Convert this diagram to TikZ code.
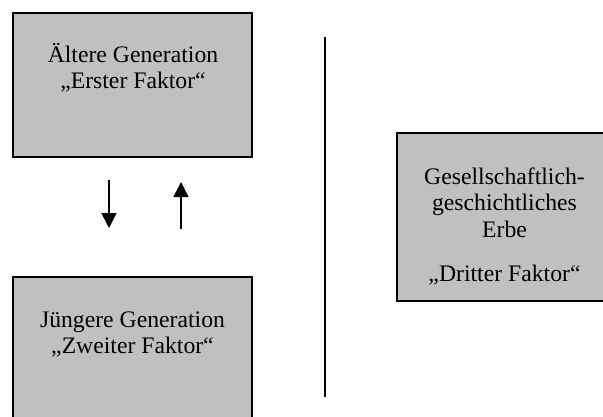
\documentclass[tikz,border=0pt]{standalone}
\usepackage{fontspec}
\setmainfont{Liberation Serif}
\usetikzlibrary{arrows.meta}
\definecolor{boxgray}{HTML}{C0C0C0}
\tikzset{
  factorbox/.style={draw=black, fill=boxgray, line width=1.3pt, rectangle, inner sep=0pt},
  boxtext/.style={align=center, anchor=base, inner sep=0pt, font=\fontsize{23.7}{26.5}\selectfont},
  flowarrow/.style={line width=1.5pt, -{Triangle[width=15pt,length=15pt]}},
  divider/.style={line width=2.6pt}
}
\begin{document}
\begin{tikzpicture}[x=1pt,y=-1pt]
\useasboundingbox (0,0) rectangle (603,416);
\clip (0,0) rectangle (603,416);
% boxes
\node[factorbox, minimum width=239pt, minimum height=144pt] (older) at (132.5,85) {};
\node[factorbox, minimum width=239pt, minimum height=163pt] (younger) at (132.5,358.5) {};
\node[factorbox, minimum width=213pt, minimum height=168pt] (heritage) at (503.5,217) {};
% texts (anchor base = baseline of the last line)
\node[boxtext] (oldertext) at (133,88.5) {Ältere Generation\\„Erster Faktor“};
\node[boxtext] (youngertext) at (132.5,353.5) {Jüngere Generation\\„Zweiter Faktor“};
\node[boxtext] (heritagetext) at (504.5,281) {Gesellschaftlich-\\geschichtliches\\Erbe\\[17.5pt]„Dritter Faktor“};
% arrows
\coordinate (downstart) at (109,180);
\coordinate (downend) at (109,228);
\coordinate (upstart) at (181,229);
\coordinate (upend) at (181,182);
\draw[flowarrow] (downstart) -- (downend);
\draw[flowarrow] (upstart) -- (upend);
% divider
\coordinate (divtop) at (325,37);
\coordinate (divbottom) at (325,397);
\draw[divider] (divtop) -- (divbottom);
\end{tikzpicture}
\end{document}
